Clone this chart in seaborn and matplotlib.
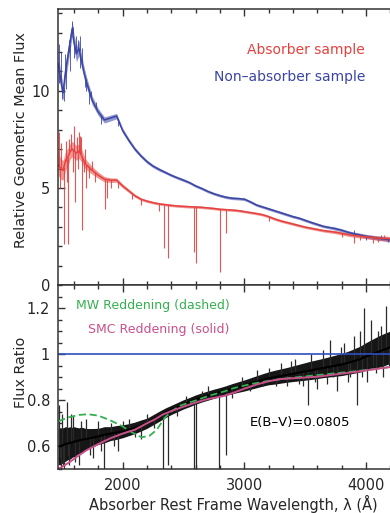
import numpy as np
import pandas as pd
import matplotlib
matplotlib.use("Agg")
import matplotlib.pyplot as plt
import seaborn as sns
from matplotlib.ticker import MultipleLocator, FixedLocator, FixedFormatter

# ---------------- data ----------------
wavelength = [1470, 1490, 1510, 1530, 1550, 1570, 1585, 1600, 1620, 1640,
              1660, 1680, 1700, 1750, 1800, 1850, 1900, 1950, 2000, 2050,
              2100, 2150, 2200, 2250, 2300, 2350, 2400, 2450, 2500, 2550,
              2600, 2650, 2700, 2750, 2800, 2850, 2900, 2950, 3000, 3050,
              3100, 3150, 3200, 3250, 3300, 3350, 3400, 3450, 3500, 3550,
              3600, 3650, 3700, 3750, 3800, 3850, 3900, 3950, 4000, 4050,
              4100, 4150, 4200, 4250]

# non-absorber sample: mean level and half-width of the noise band
nonabs_flux = [11.4, 10.6, 9.9, 11.0, 11.8, 12.6, 13.2, 12.5, 11.9, 12.2,
               11.6, 11.0, 10.5, 9.5, 8.9, 8.5, 8.6, 8.7, 7.95, 7.45,
               7.0, 6.65, 6.35, 6.12, 5.95, 5.8, 5.65, 5.52, 5.4, 5.27,
               5.1, 4.97, 4.82, 4.7, 4.6, 4.52, 4.47, 4.45, 4.42, 4.28,
               4.12, 4.02, 3.92, 3.82, 3.72, 3.62, 3.52, 3.44, 3.33, 3.22,
               3.12, 3.02, 2.96, 2.9, 2.82, 2.72, 2.64, 2.58, 2.51, 2.46,
               2.41, 2.37, 2.33, 2.3]
nonabs_noise = [0.45, 0.45, 0.4, 0.45, 0.45, 0.4, 0.4, 0.4, 0.4, 0.4,
                0.35, 0.3, 0.28, 0.22, 0.18, 0.16, 0.15, 0.14, 0.12, 0.11,
                0.1, 0.09, 0.09, 0.08, 0.08, 0.07, 0.07, 0.07, 0.07, 0.07,
                0.07, 0.07, 0.07, 0.07, 0.07, 0.07, 0.07, 0.07, 0.07, 0.07,
                0.07, 0.07, 0.07, 0.07, 0.07, 0.07, 0.07, 0.07, 0.07, 0.07,
                0.07, 0.07, 0.07, 0.08, 0.08, 0.08, 0.09, 0.09, 0.1, 0.1,
                0.11, 0.11, 0.12, 0.12]
nonabs_spike_wl = [1475, 1480, 1495, 1505, 1515, 1525, 1535, 1555, 1565, 1580,
                   1590, 1600, 1615, 1630, 1645, 1650, 1665, 1690, 1695, 1720,
                   1740, 1780, 1820, 1960, 3900, 4000, 4120, 4180]
nonabs_spike_tip = [10.4, 12.4, 12.0, 9.6, 9.5, 11.9, 10.1, 12.6, 11.0, 13.6,
                    13.3, 11.7, 12.8, 12.6, 12.8, 11.2, 12.2, 10.2, 10.0, 9.3,
                    10.0, 9.4, 8.3, 8.2, 2.85, 2.3, 2.6, 2.2]

# absorber sample
abs_flux = [6.2, 6.0, 5.9, 6.4, 6.6, 6.9, 7.0, 6.9, 6.8, 6.9,
            6.7, 6.4, 6.2, 5.9, 5.65, 5.45, 5.4, 5.4, 5.1, 4.85,
            4.6, 4.42, 4.32, 4.24, 4.18, 4.14, 4.1, 4.07, 4.05, 4.03,
            4.02, 4.0, 3.97, 3.94, 3.9, 3.88, 3.86, 3.83, 3.78, 3.73,
            3.68, 3.62, 3.52, 3.4, 3.3, 3.22, 3.14, 3.06, 2.98, 2.92,
            2.86, 2.8, 2.76, 2.72, 2.66, 2.6, 2.55, 2.52, 2.48, 2.45,
            2.42, 2.4, 2.38, 2.36]
abs_noise = [0.55, 0.55, 0.5, 0.5, 0.45, 0.4, 0.4, 0.4, 0.38, 0.38,
             0.34, 0.3, 0.25, 0.2, 0.16, 0.14, 0.12, 0.11, 0.1, 0.09,
             0.08, 0.07, 0.07, 0.065, 0.065, 0.065, 0.065, 0.065, 0.065, 0.065,
             0.065, 0.065, 0.065, 0.065, 0.065, 0.065, 0.065, 0.065, 0.065, 0.065,
             0.065, 0.065, 0.07, 0.07, 0.07, 0.07, 0.07, 0.07, 0.07, 0.07,
             0.07, 0.07, 0.075, 0.08, 0.08, 0.09, 0.09, 0.1, 0.1, 0.11,
             0.11, 0.12, 0.12, 0.12]
abs_spike_wl = [1475, 1485, 1495, 1518, 1530, 1540, 1548, 1560, 1575, 1590,
                1600, 1610, 1625, 1630, 1640, 1650, 1655, 1668, 1680, 1690,
                1700, 1720, 1745, 1770, 1855, 1870, 1900, 1960, 2080, 2150,
                2300, 2343, 2375, 2587, 2600, 2796, 2852, 3200, 3800, 3900,
                3950, 4060, 4100, 4150]
abs_spike_tip = [7.9, 5.0, 7.3, 2.1, 7.4, 5.3, 2.1, 7.5, 7.8, 5.8,
                 8.2, 4.3, 7.6, 6.0, 7.9, 7.7, 7.6, 2.85, 5.8, 7.0,
                 5.0, 5.5, 6.4, 5.3, 3.9, 4.5, 5.0, 5.0, 4.45, 4.1,
                 3.8, 1.9, 1.4, 1.7, 1.15, 0.65, 2.7, 3.3, 2.45, 2.15,
                 2.3, 2.15, 2.2, 2.6]

# flux ratio: level and half-width of the noise band
ratio = [0.60, 0.60, 0.605, 0.61, 0.612, 0.615, 0.617, 0.62, 0.622, 0.625,
         0.628, 0.63, 0.632, 0.637, 0.643, 0.65, 0.655, 0.66, 0.665, 0.672,
         0.68, 0.69, 0.70, 0.715, 0.73, 0.745, 0.758, 0.77, 0.782, 0.792,
         0.803, 0.812, 0.82, 0.828, 0.835, 0.842, 0.85, 0.857, 0.864, 0.872,
         0.88, 0.888, 0.895, 0.90, 0.905, 0.91, 0.915, 0.92, 0.925, 0.93,
         0.935, 0.94, 0.945, 0.95, 0.955, 0.962, 0.97, 0.978, 0.99, 1.0,
         1.01, 1.02, 1.03, 1.035]
ratio_noise = [0.08, 0.08, 0.075, 0.075, 0.07, 0.07, 0.065, 0.065, 0.06, 0.055,
               0.055, 0.05, 0.045, 0.04, 0.035, 0.035, 0.03, 0.03, 0.028, 0.026,
               0.025, 0.024, 0.022, 0.022, 0.022, 0.021, 0.02, 0.02, 0.02, 0.02,
               0.02, 0.02, 0.02, 0.02, 0.02, 0.021, 0.022, 0.023, 0.024, 0.025,
               0.026, 0.027, 0.028, 0.03, 0.031, 0.032, 0.034, 0.036, 0.038, 0.04,
               0.041, 0.042, 0.044, 0.046, 0.048, 0.05, 0.053, 0.056, 0.06, 0.064,
               0.068, 0.07, 0.07, 0.07]
ratio_spike_wl = [1475, 1482, 1490, 1505, 1512, 1520, 1540, 1550, 1560, 1575,
                  1590, 1610, 1640, 1660, 1700, 1730, 1760, 1800, 1820, 1845,
                  1900, 1930, 1960, 2000, 2050, 2100, 2150, 2200, 2260, 2333,
                  2375, 2450, 2520, 2588, 2600, 2650, 2700, 2794, 2853, 2900,
                  2980, 3050, 3100, 3150, 3200, 3260, 3300, 3350, 3380, 3420,
                  3450, 3480, 3520, 3550, 3580, 3600, 3650, 3680, 3700, 3730,
                  3760, 3790, 3820, 3850, 3870, 3900, 3925, 3950, 3970, 3985,
                  4010, 4040, 4060, 4080, 4100, 4120, 4140, 4165, 4190, 4210]
ratio_spike_tip = [0.78, 0.55, 0.50, 0.74, 0.52, 0.50, 0.79, 0.56, 0.52, 0.74,
                   0.73, 0.53, 0.52, 0.71, 0.72, 0.56, 0.55, 0.71, 0.58, 0.50,
                   0.70, 0.60, 0.58, 0.71, 0.72, 0.64, 0.63, 0.74, 0.68, 0.50,
                   0.52, 0.73, 0.82, 0.50, 0.50, 0.84, 0.86, 0.50, 0.56, 0.81,
                   0.90, 0.84, 0.93, 0.86, 0.94, 0.86, 0.96, 0.86, 0.97, 0.98,
                   0.87, 0.86, 0.78, 1.00, 0.88, 0.85, 1.02, 0.87, 1.06, 0.90,
                   0.84, 1.03, 1.05, 0.88, 0.90, 1.08, 0.78, 1.10, 0.90, 1.20,
                   0.88, 1.15, 0.95, 0.92, 1.10, 1.12, 0.90, 1.21, 0.95, 1.20]

mw_wl = [1470, 1550, 1640, 1715, 1800, 1900, 1990, 2080, 2155, 2220,
         2280, 2348, 2400, 2480, 2594, 2700, 2840, 2910, 3050, 3200,
         3320, 3456, 3600, 3750, 3900, 4050, 4197, 4250]
mw_ratio = [0.708, 0.725, 0.736, 0.739, 0.733, 0.712, 0.689, 0.659, 0.639, 0.645,
            0.672, 0.725, 0.752, 0.778, 0.798, 0.818, 0.839, 0.852, 0.870, 0.884,
            0.893, 0.901, 0.909, 0.917, 0.925, 0.934, 0.944, 0.947]

smc_wl = [1470, 1500, 1560, 1620, 1700, 1800, 1900, 2000, 2100, 2200,
          2265, 2330, 2400, 2500, 2594, 2700, 2827, 2910, 3000, 3100,
          3200, 3300, 3456, 3600, 3750, 3900, 4050, 4197, 4250]
smc_ratio = [0.503, 0.510, 0.530, 0.553, 0.582, 0.610, 0.635, 0.655, 0.672, 0.700,
             0.717, 0.738, 0.753, 0.772, 0.789, 0.805, 0.818, 0.832, 0.850, 0.868,
             0.882, 0.892, 0.897, 0.902, 0.912, 0.922, 0.933, 0.944, 0.947]

unity_level = 1.0
ebv_value = 0.0805

x_major_ticks = [2000, 3000, 4000]
x_tick_labels = ["2000", "3000", "4000"]
top_y_ticks = [0, 5, 10]
top_y_labels = ["0", "5", "10"]
bot_y_ticks = [0.6, 0.8, 1.0, 1.2]
bot_y_labels = ["0.6", "0.8", "1", "1.2"]

# ---------------- style ----------------
sns.set_style("ticks")
plt.rcParams["font.family"] = ["DejaVu Sans"]
plt.rcParams["axes.edgecolor"] = "#333333"
plt.rcParams["axes.linewidth"] = 1.1

RED = "#e4423f"
BLUE = "#3a45a5"
GREEN = "#33b04f"
PINK = "#c8508a"

fig = plt.figure(figsize=(3.9, 5.13), dpi=100)
ax_top = fig.add_axes([0.148, 0.4444, 0.902, 0.5375])
ax_bot = fig.add_axes([0.148, 0.0852, 0.902, 0.3592])

wl = np.array(wavelength)


def band_frame(level, noise, name):
    lev = np.array(level)
    nz = np.array(noise)
    return pd.DataFrame({"wl": wavelength, name: level,
                         "lo": lev - nz, "hi": lev + nz})


nonabs_df = band_frame(nonabs_flux, nonabs_noise, "flux")
abs_df = band_frame(abs_flux, abs_noise, "flux")
ratio_df = band_frame(ratio, ratio_noise, "ratio")
mw_df = pd.DataFrame({"wl": mw_wl, "ratio": mw_ratio})
smc_df = pd.DataFrame({"wl": smc_wl, "ratio": smc_ratio})

# ---------------- top panel ----------------
ax_top.fill_between(nonabs_df["wl"], nonabs_df["lo"], nonabs_df["hi"],
                    color=BLUE, lw=0, alpha=0.55)
ax_top.vlines(nonabs_spike_wl, np.interp(nonabs_spike_wl, wl, nonabs_flux),
              nonabs_spike_tip, color=BLUE, lw=0.7, alpha=0.85)
sns.lineplot(data=nonabs_df, x="wl", y="flux", ax=ax_top, color=BLUE,
             lw=1.1, estimator=None, sort=True)

ax_top.fill_between(abs_df["wl"], abs_df["lo"], abs_df["hi"],
                    color=RED, lw=0, alpha=0.55)
ax_top.vlines(abs_spike_wl, np.interp(abs_spike_wl, wl, abs_flux),
              abs_spike_tip, color=RED, lw=0.8, alpha=0.9)
sns.lineplot(data=abs_df, x="wl", y="flux", ax=ax_top, color=RED,
             lw=1.1, estimator=None, sort=True)

ax_top.text(3992, 12.11, "Absorber sample", color=RED, ha="right",
            va="center", fontsize=10)
ax_top.text(3992, 10.7, "Non\u2013absorber sample", color=BLUE, ha="right",
            va="center", fontsize=10)

# ---------------- bottom panel ----------------
ax_bot.fill_between(ratio_df["wl"], ratio_df["lo"], ratio_df["hi"],
                    color="#161616", lw=0)
ax_bot.vlines(ratio_spike_wl, np.interp(ratio_spike_wl, wl, ratio),
              ratio_spike_tip, color="#2a2a2a", lw=0.9)
sns.lineplot(data=ratio_df, x="wl", y="ratio", ax=ax_bot, color="black",
             lw=1.5, estimator=None, sort=True)
ax_bot.axhline(unity_level, color="#2f4fc0", lw=1.2)
sns.lineplot(data=mw_df, x="wl", y="ratio", ax=ax_bot, color=GREEN,
             lw=1.3, linestyle=(0, (4, 2)), estimator=None, sort=True)
sns.lineplot(data=smc_df, x="wl", y="ratio", ax=ax_bot, color=PINK,
             lw=1.4, estimator=None, sort=True)
ax_bot.text(2876, 1.213, "MW Reddening (dashed)", color=GREEN, ha="right",
            va="center", fontsize=9)
ax_bot.text(2876, 1.105, "SMC Reddening (solid)", color=PINK, ha="right",
            va="center", fontsize=9)
ax_bot.text(3459, 0.702, f"E(B\u2013V)={ebv_value}", color="black",
            ha="center", va="center", fontsize=9.5)

# ---------------- axes ----------------
for ax in (ax_top, ax_bot):
    ax.set_xlim(1466, 4357)
    ax.xaxis.set_major_locator(FixedLocator(x_major_ticks))
    ax.xaxis.set_minor_locator(MultipleLocator(200))
    ax.tick_params(which="both", direction="in", top=True, right=True,
                   color="#333333", width=1.0, labelsize=10.5)
    ax.tick_params(which="major", length=5)
    ax.tick_params(which="minor", length=2.6)
    ax.tick_params(axis="y", pad=5.5)
    ax.tick_params(axis="x", pad=6)
    for s in ax.spines.values():
        s.set_visible(True)

ax_top.set_ylim(0, 14.2)
ax_top.yaxis.set_major_locator(FixedLocator(top_y_ticks))
ax_top.yaxis.set_major_formatter(FixedFormatter(top_y_labels))
ax_top.yaxis.set_minor_locator(MultipleLocator(1))
ax_top.tick_params(axis="x", labelbottom=False)
ax_top.set_xlabel("")
ax_top.set_ylabel("Relative Geometric Mean Flux", fontsize=10.4)
ax_top.yaxis.label.set_va("center")
ax_top.yaxis.set_label_coords(-0.104, 0.526)

ax_bot.set_ylim(0.5, 1.3)
ax_bot.yaxis.set_major_locator(FixedLocator(bot_y_ticks))
ax_bot.yaxis.set_major_formatter(FixedFormatter(bot_y_labels))
ax_bot.yaxis.set_minor_locator(MultipleLocator(0.05))
ax_bot.xaxis.set_major_formatter(FixedFormatter(x_tick_labels))
ax_bot.set_ylabel("Flux Ratio", fontsize=10.4)
ax_bot.yaxis.label.set_va("center")
ax_bot.yaxis.set_label_coords(-0.104, 0.528)
ax_bot.set_xlabel("Absorber Rest Frame Wavelength, \u03bb (\u00c5)", fontsize=10.5)
ax_bot.xaxis.label.set_va("center")
ax_bot.xaxis.set_label_coords(0.5, -0.188)

fig.savefig("out.png", dpi=100)
